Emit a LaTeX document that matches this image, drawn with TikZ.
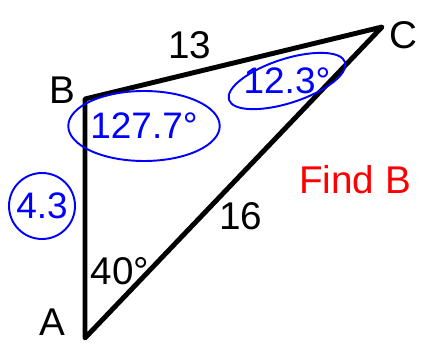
\documentclass[tikz,border=0pt]{standalone}
\usepackage{fontspec}
\setmainfont{Liberation Sans}
\usetikzlibrary{shapes.geometric}

\begin{document}
\begin{tikzpicture}[x=0.02cm, y=-0.02cm,
		lbl/.style={font=\fontsize{22}{26}\selectfont},
		ring/.style={draw=blue, line width=1.1pt, text=blue, font=\fontsize{21}{25}\selectfont}]
		\useasboundingbox (0,0) rectangle (423,344);
		\coordinate (A) at (85,338);
		\coordinate (B) at (85,99);
		\coordinate (C) at (382,27);
		\draw[line width=2.8pt, line join=round] (A) -- (B) -- (C) -- cycle;
		\node[lbl] (lA) at (52,322){A};
		\node[lbl] (lB) at (62,90){B};
		\node[lbl] (lC) at (403,35){C};
		\node[lbl] (l13) at (190,45){13};
		\node[lbl] (l16) at (241,216){16};
		\node[lbl] (l40) at (120,271){40°};
		\node[lbl, text=red] (find) at (355,180){Find B};
		\node[ring, ellipse, minimum width=118*0.02cm, minimum height=70*0.02cm, inner sep=0pt] (angB) at (144,126){127.7°};
		\node[ring, ellipse, rotate=18, minimum width=122*0.02cm, minimum height=44*0.02cm, inner sep=0pt] (angC) at (287,81){};
		\node[ring, draw=none, inner sep=0pt] (angCtext) at (angC){12.3°};
		\node[ring, circle, minimum size=66*0.02cm, inner sep=0pt] (sideA) at (42,206){4.3};
\end{tikzpicture}
\end{document}
